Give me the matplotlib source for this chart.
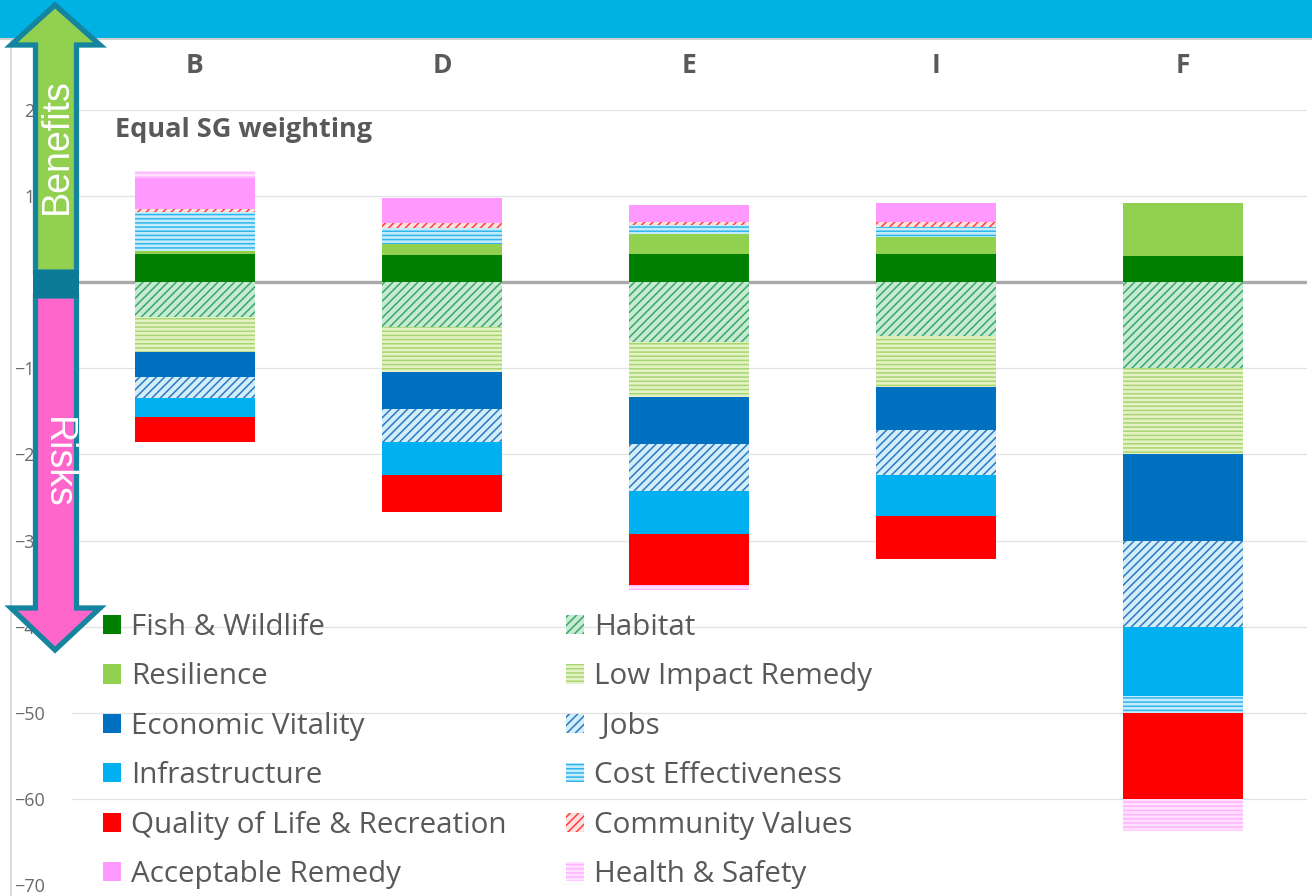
import matplotlib
matplotlib.use('Agg')
import matplotlib.pyplot as plt
from matplotlib.patches import Patch, Polygon, Rectangle
from matplotlib.lines import Line2D
import numpy as np

plt.rcParams['font.family'] = ['Open Sans', 'DejaVu Sans']
plt.rcParams['hatch.linewidth'] = 1.1

# ---------------- data ----------------
categories = ['B', 'D', 'E', 'I', 'F']
fish_wildlife = [3.3, 3.2, 3.3, 3.3, 3.0]
habitat = [-4.0, -5.2, -6.9, -6.2, -10.0]
resilience = [0.35, 1.25, 2.3, 1.95, 6.2]
low_impact_remedy = [-4.1, -5.2, -6.4, -6.0, -10.0]
economic_vitality = [-2.9, -4.3, -5.5, -5.0, -10.0]
jobs = [-2.5, -3.9, -5.4, -5.2, -10.0]
infrastructure = [-2.2, -3.8, -5.0, -4.7, -8.0]
cost_effectiveness = [4.5, 1.9, 1.0, 1.15, -2.0]
quality_of_life = [-2.9, -4.3, -6.0, -5.0, -10.0]
community_values = [0.4, 0.5, 0.4, 0.6, 0.0]
acceptable_remedy = [3.5, 2.9, 1.95, 2.2, 0.0]
health_safety = [0.9, 0.0, -0.6, 0.0, -3.7]

series_names = ['Fish & Wildlife', 'Habitat', 'Resilience', 'Low Impact Remedy',
                'Economic Vitality', ' Jobs', 'Infrastructure', 'Cost Effectiveness',
                'Quality of Life & Recreation', 'Community Values',
                'Acceptable Remedy', 'Health & Safety']
series_values = [fish_wildlife, habitat, resilience, low_impact_remedy,
                 economic_vitality, jobs, infrastructure, cost_effectiveness,
                 quality_of_life, community_values, acceptable_remedy, health_safety]
y_ticks = [-70, -60, -50, -40, -30, -20, -10, 0, 10, 20]
title_text = 'Equal SG weighting'

# ---------------- styles ----------------
# (facecolor, hatch color, hatch)
styles = [
    ('#008000', '#008000', None),
    ('#c6ead3', '#3aa865', '////'),
    ('#92d050', '#92d050', None),
    ('#e4f2c6', '#a8d672', '----'),
    ('#0070c0', '#0070c0', None),
    ('#d2eefb', '#2f79bf', '////'),
    ('#00b0f0', '#00b0f0', None),
    ('#c4ecfb', '#2fb6ec', '----'),
    ('#ff0000', '#ff0000', None),
    ('#ffe0e0', '#ff4040', '////'),
    ('#ff99ff', '#ff99ff', None),
    ('#ffe0ff', '#ffb3ff', '----'),
]

W, H = 1312, 896
fig = plt.figure(figsize=(W / 100, H / 100), dpi=100)
fig.patch.set_facecolor('white')

def fx(px):
    return px / W

def fy(py):
    return 1 - py / H

ax = fig.add_axes([fx(71.5), fy(885), 1235 / W, 775 / H])
ax.set_facecolor('none')
x = np.arange(len(categories))
bar_w = 0.486

pos_cum = np.zeros(len(categories))
neg_cum = np.zeros(len(categories))
for name, vals, (fc, hc, hatch) in zip(series_names, series_values, styles):
    vals = np.array(vals, dtype=float)
    bottoms = np.where(vals >= 0, pos_cum, neg_cum)
    ax.bar(x, vals, width=bar_w, bottom=bottoms, color=fc, edgecolor=hc,
           hatch=hatch, linewidth=0, zorder=2)
    pos_cum = pos_cum + np.where(vals > 0, vals, 0)
    neg_cum = neg_cum + np.where(vals < 0, vals, 0)

ax.set_xlim(-0.5, len(categories) - 0.5)
ax.set_ylim(-70, 20)
ax.set_yticks(y_ticks)
ax.yaxis.grid(True, color='#e3e3e3', linewidth=0.9, zorder=0)
ax.set_axisbelow(True)
ax.axhline(0, color='#a9a9a9', linewidth=2.4, zorder=1.5)
for s in ax.spines.values():
    s.set_visible(False)
ax.tick_params(axis='y', length=0, pad=19, labelsize=13, labelcolor='#6a6a6a')

ax.xaxis.tick_top()
ax.set_xticks(x, categories)
ax.tick_params(axis='x', length=0, pad=22, labelsize=19, labelcolor='#595959')
for t in ax.get_xticklabels():
    t.set_fontweight('bold')

fig.text(fx(115), fy(137), title_text, ha='left', va='baseline',
         fontsize=19.5, fontweight='bold', color='#595959')

# legends (two columns)
handles = [Patch(facecolor=fc, edgecolor=hc, hatch=h, linewidth=0)
           for (fc, hc, h) in styles]
left_idx = [0, 2, 4, 6, 8, 10]
right_idx = [1, 3, 5, 7, 9, 11]
leg_kw = dict(loc='upper left', bbox_transform=fig.transFigure, frameon=False,
              fontsize=21.3, handlelength=0.62, handleheight=0.62, handletextpad=0.33,
              labelspacing=0.69, borderpad=0, borderaxespad=0, labelcolor='#595959')
leg1 = ax.legend([handles[i] for i in left_idx], [series_names[i] for i in left_idx],
                 bbox_to_anchor=(fx(103), fy(613)), **leg_kw)
ax.add_artist(leg1)
leg2 = ax.legend([handles[i] for i in right_idx], [series_names[i] for i in right_idx],
                 bbox_to_anchor=(fx(566), fy(613)), **leg_kw)

# ---------------- decorations ----------------
tr = fig.transFigure
banner = Rectangle((0, fy(38)), 1, 38 / H, transform=tr, facecolor='#00b2e3',
                   edgecolor='none', zorder=5)
fig.add_artist(banner)
fig.add_artist(Line2D([0, 1], [fy(39.5), fy(39.5)], transform=tr, color='#cfcfcf',
                      linewidth=1.5, zorder=5))
fig.add_artist(Line2D([fx(11), fx(11)], [fy(40), 0], transform=tr, color='#d6d6d6',
                      linewidth=1.2, zorder=5))

border = '#15849f'
up = [(55, 5), (100, 45), (76.5, 45), (76.5, 272), (35.5, 272), (35.5, 45), (11, 45)]
fig.add_artist(Polygon([(fx(a), fy(b)) for a, b in up], closed=True, transform=tr,
                       facecolor='#92d050', edgecolor=border, linewidth=3.8,
                       joinstyle='miter', zorder=6))
down = [(35.5, 296), (76.5, 296), (76.5, 608), (100, 608), (55, 650), (11, 608), (35.5, 608)]
fig.add_artist(Polygon([(fx(a), fy(b)) for a, b in down], closed=True, transform=tr,
                       facecolor='#ff66cc', edgecolor=border, linewidth=3.8,
                       joinstyle='miter', zorder=6))
fig.add_artist(Rectangle((fx(33), fy(298)), 46 / W, 28 / H, transform=tr,
                         facecolor='#0b7b98', edgecolor='none', zorder=7))
fig.text(fx(57), fy(146), 'Benefits', rotation=90, ha='center', va='center',
         color='white', fontsize=27, family=['Liberation Sans', 'DejaVu Sans'], zorder=8)
fig.text(fx(57), fy(463), 'Risks', rotation=-90, ha='center', va='center',
         color='white', fontsize=27, family=['Liberation Sans', 'DejaVu Sans'], zorder=8)

fig.savefig('out.png', dpi=100, facecolor='white')
